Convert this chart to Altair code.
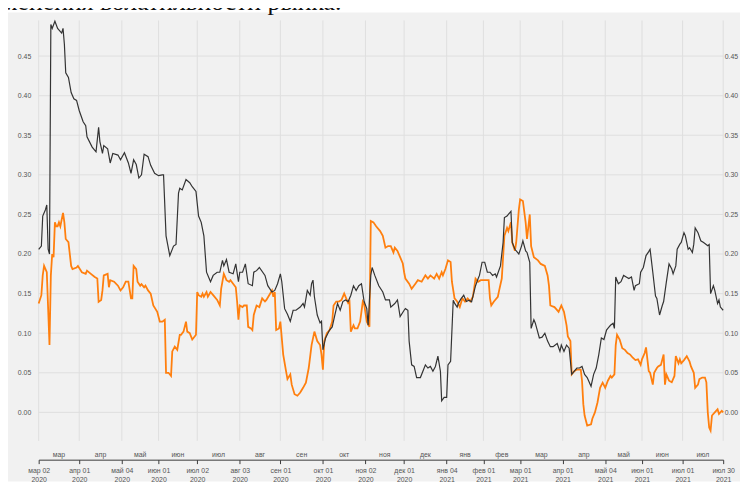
import json
import altair as alt
import numpy as np
import pandas as pd

# ---------------- data ----------------
tick_dates = ["2020-03-02", "2020-04-01", "2020-05-04", "2020-06-01", "2020-07-02",
              "2020-08-03", "2020-09-01", "2020-10-01", "2020-11-02", "2020-12-01",
              "2021-01-04", "2021-02-01", "2021-03-01", "2021-04-01", "2021-05-04",
              "2021-06-01", "2021-07-01", "2021-07-30"]
month_abbr = ["янв", "фев", "мар", "апр", "май", "июн", "июл", "авг", "сен", "окт", "ноя", "дек"]
minor_months = ["мар", "апр", "май", "июн", "июл", "авг", "сен", "окт", "ноя", "дек",
                "янв", "фев", "мар", "апр", "май", "июн", "июл"]
holidays = ["2020-03-09", "2020-05-01", "2020-05-11", "2020-06-12", "2020-06-24", "2020-07-01",
            "2020-11-04", "2020-12-31", "2021-01-01", "2021-01-07", "2021-02-23", "2021-03-08",
            "2021-05-03", "2021-05-10", "2021-06-14"]
y_ticks = [0.00, 0.05, 0.10, 0.15, 0.20, 0.25, 0.30, 0.35, 0.40, 0.45]
header_text = "изменения волатильности рынка."

black_dates = [
    "2020-03-02", "2020-03-04", "2020-03-05", "2020-03-07", "2020-03-08", "2020-03-09", "2020-03-10",
    "2020-03-11", "2020-03-12", "2020-03-14", "2020-03-16", "2020-03-19", "2020-03-20", "2020-03-21",
    "2020-03-22", "2020-03-24", "2020-03-26", "2020-03-28", "2020-03-30", "2020-04-01", "2020-04-04",
    "2020-04-06", "2020-04-07", "2020-04-11", "2020-04-14", "2020-04-16", "2020-04-17", "2020-04-19",
    "2020-04-20", "2020-04-23", "2020-04-25", "2020-04-27", "2020-05-01", "2020-05-03", "2020-05-06",
    "2020-05-09", "2020-05-11", "2020-05-13", "2020-05-15", "2020-05-17", "2020-05-19", "2020-05-21",
    "2020-05-24", "2020-05-26", "2020-05-29", "2020-06-01", "2020-06-04", "2020-06-05", "2020-06-07",
    "2020-06-10", "2020-06-13", "2020-06-15", "2020-06-17", "2020-06-18", "2020-06-20", "2020-06-23",
    "2020-06-26", "2020-06-28", "2020-07-01", "2020-07-03", "2020-07-05", "2020-07-07", "2020-07-09",
    "2020-07-12", "2020-07-14", "2020-07-17", "2020-07-19", "2020-07-21", "2020-07-22", "2020-07-24",
    "2020-07-26", "2020-07-29", "2020-07-31", "2020-08-02", "2020-08-03", "2020-08-05", "2020-08-07",
    "2020-08-09", "2020-08-12", "2020-08-13", "2020-08-15", "2020-08-17", "2020-08-21", "2020-08-23",
    "2020-08-26", "2020-08-28", "2020-08-30", "2020-09-01", "2020-09-02", "2020-09-04", "2020-09-06",
    "2020-09-08", "2020-09-10", "2020-09-12", "2020-09-15", "2020-09-17", "2020-09-18", "2020-09-20",
    "2020-09-22", "2020-09-23", "2020-09-24", "2020-09-25", "2020-09-27", "2020-09-29", "2020-09-30",
    "2020-10-01", "2020-10-03", "2020-10-06", "2020-10-08", "2020-10-10", "2020-10-12", "2020-10-14",
    "2020-10-16", "2020-10-18", "2020-10-20", "2020-10-22", "2020-10-24", "2020-10-26", "2020-10-28",
    "2020-10-30", "2020-11-01", "2020-11-03", "2020-11-04", "2020-11-06", "2020-11-07", "2020-11-09",
    "2020-11-12", "2020-11-15", "2020-11-17", "2020-11-20", "2020-11-21", "2020-11-24", "2020-11-26",
    "2020-11-28", "2020-12-01", "2020-12-02", "2020-12-04", "2020-12-05", "2020-12-07", "2020-12-09",
    "2020-12-11", "2020-12-14", "2020-12-16", "2020-12-18", "2020-12-20", "2020-12-22", "2020-12-24",
    "2020-12-26", "2020-12-28", "2020-12-30", "2020-12-31", "2021-01-02", "2021-01-04", "2021-01-05",
    "2021-01-07", "2021-01-09", "2021-01-10", "2021-01-12", "2021-01-13", "2021-01-15", "2021-01-17",
    "2021-01-19", "2021-01-21", "2021-01-23", "2021-01-26", "2021-01-28", "2021-01-29", "2021-01-31",
    "2021-02-02", "2021-02-04", "2021-02-06", "2021-02-08", "2021-02-10", "2021-02-11", "2021-02-14",
    "2021-02-16", "2021-02-17", "2021-02-19", "2021-02-20", "2021-02-22", "2021-02-23", "2021-02-25",
    "2021-02-27", "2021-02-28", "2021-03-02", "2021-03-03", "2021-03-05", "2021-03-06", "2021-03-08",
    "2021-03-09", "2021-03-11", "2021-03-12", "2021-03-15", "2021-03-17", "2021-03-19", "2021-03-21",
    "2021-03-23", "2021-03-25", "2021-03-28", "2021-03-30", "2021-03-31", "2021-04-02", "2021-04-04",
    "2021-04-06", "2021-04-08", "2021-04-10", "2021-04-12", "2021-04-14", "2021-04-16", "2021-04-18",
    "2021-04-20", "2021-04-23", "2021-04-25", "2021-04-27", "2021-04-29", "2021-05-01", "2021-05-03",
    "2021-05-05", "2021-05-06", "2021-05-08", "2021-05-10", "2021-05-11", "2021-05-12", "2021-05-14",
    "2021-05-16", "2021-05-18", "2021-05-20", "2021-05-22", "2021-05-24", "2021-05-26", "2021-05-27",
    "2021-05-30", "2021-05-31", "2021-06-02", "2021-06-04", "2021-06-06", "2021-06-07", "2021-06-09",
    "2021-06-11", "2021-06-12", "2021-06-14", "2021-06-16", "2021-06-17", "2021-06-19", "2021-06-21",
    "2021-06-23", "2021-06-24", "2021-06-26", "2021-06-27", "2021-06-29", "2021-06-30", "2021-07-02",
    "2021-07-03", "2021-07-05", "2021-07-06", "2021-07-08", "2021-07-09", "2021-07-10", "2021-07-12",
    "2021-07-14", "2021-07-16", "2021-07-19", "2021-07-20", "2021-07-21", "2021-07-23", "2021-07-24",
    "2021-07-26", "2021-07-27", "2021-07-28", "2021-07-30"]
black_values = [
    0.206, 0.210, 0.248, 0.256, 0.262, 0.206, 0.200,
    0.490, 0.485, 0.494, 0.485, 0.479, 0.485, 0.465,
    0.429, 0.423, 0.404, 0.396, 0.394, 0.381, 0.367,
    0.362, 0.348, 0.335, 0.329, 0.360, 0.342, 0.327,
    0.337, 0.333, 0.315, 0.327, 0.325, 0.319, 0.328,
    0.315, 0.302, 0.319, 0.313, 0.296, 0.300, 0.326,
    0.323, 0.312, 0.302, 0.299, 0.300, 0.300, 0.223,
    0.198, 0.210, 0.212, 0.277, 0.283, 0.281, 0.294,
    0.290, 0.285, 0.279, 0.248, 0.240, 0.223, 0.177,
    0.165, 0.173, 0.177, 0.177, 0.192, 0.185, 0.193,
    0.177, 0.175, 0.1875, 0.165, 0.177, 0.177, 0.1875,
    0.1625, 0.160, 0.177, 0.179, 0.183, 0.173, 0.160,
    0.152, 0.154, 0.1625, 0.175, 0.165, 0.131, 0.124,
    0.115, 0.129, 0.129, 0.133, 0.1375, 0.133, 0.154,
    0.148, 0.1625, 0.167, 0.146, 0.123, 0.113, 0.115,
    0.079, 0.094, 0.104, 0.108, 0.123, 0.1375, 0.129,
    0.140, 0.142, 0.140, 0.148, 0.160, 0.154, 0.160,
    0.1625, 0.140, 0.131, 0.110, 0.173, 0.183, 0.173,
    0.160, 0.152, 0.142, 0.142, 0.133, 0.1375, 0.142,
    0.121, 0.129, 0.131, 0.129, 0.090, 0.060, 0.058,
    0.044, 0.044, 0.052, 0.060, 0.056, 0.058, 0.052,
    0.058, 0.071, 0.052, 0.0146, 0.019, 0.019, 0.060,
    0.0646, 0.1417, 0.138, 0.133, 0.138, 0.1437, 0.148,
    0.140, 0.1417, 0.1396, 0.160, 0.169, 0.173, 0.1896,
    0.1896, 0.177, 0.177, 0.173, 0.175, 0.171, 0.185,
    0.2146, 0.246, 0.248, 0.250, 0.254, 0.2146, 0.206,
    0.202, 0.200, 0.210, 0.2167, 0.204, 0.202, 0.1896,
    0.106, 0.117, 0.113, 0.094, 0.095, 0.100, 0.090,
    0.083, 0.083, 0.087, 0.077, 0.085, 0.077, 0.085,
    0.081, 0.048, 0.052, 0.056, 0.056, 0.058, 0.048,
    0.044, 0.033, 0.048, 0.056, 0.073, 0.094, 0.092,
    0.104, 0.106, 0.110, 0.1125, 0.106, 0.171, 0.1625,
    0.165, 0.173, 0.171, 0.169, 0.171, 0.154, 0.160,
    0.1625, 0.177, 0.183, 0.198, 0.203, 0.206, 0.177,
    0.147, 0.144, 0.123, 0.135, 0.140, 0.1646, 0.1875,
    0.181, 0.175, 0.185, 0.206, 0.2125, 0.2146, 0.227,
    0.223, 0.206, 0.208, 0.202, 0.2125, 0.233, 0.227,
    0.2167, 0.2146, 0.2104, 0.212, 0.150, 0.160, 0.154,
    0.1375, 0.142, 0.133, 0.129]

orange_dates = [
    "2020-03-02", "2020-03-04", "2020-03-05", "2020-03-06", "2020-03-08", "2020-03-09", "2020-03-10",
    "2020-03-11", "2020-03-12", "2020-03-13", "2020-03-14", "2020-03-15", "2020-03-16", "2020-03-17",
    "2020-03-18", "2020-03-20", "2020-03-21", "2020-03-22", "2020-03-24", "2020-03-26", "2020-03-27",
    "2020-03-30", "2020-03-31", "2020-04-03", "2020-04-06", "2020-04-07", "2020-04-10", "2020-04-13",
    "2020-04-15", "2020-04-16", "2020-04-18", "2020-04-19", "2020-04-20", "2020-04-23", "2020-04-24",
    "2020-04-25", "2020-04-28", "2020-05-01", "2020-05-03", "2020-05-05", "2020-05-07", "2020-05-09",
    "2020-05-11", "2020-05-12", "2020-05-13", "2020-05-15", "2020-05-16", "2020-05-18", "2020-05-19",
    "2020-05-21", "2020-05-22", "2020-05-24", "2020-05-26", "2020-05-28", "2020-05-31", "2020-06-02",
    "2020-06-04", "2020-06-06", "2020-06-07", "2020-06-09", "2020-06-11", "2020-06-12", "2020-06-14",
    "2020-06-16", "2020-06-18", "2020-06-19", "2020-06-21", "2020-06-23", "2020-06-24", "2020-06-26",
    "2020-06-28", "2020-06-29", "2020-07-01", "2020-07-02", "2020-07-03", "2020-07-05", "2020-07-06",
    "2020-07-07", "2020-07-09", "2020-07-10", "2020-07-12", "2020-07-14", "2020-07-17", "2020-07-19",
    "2020-07-20", "2020-07-22", "2020-07-24", "2020-07-26", "2020-07-27", "2020-07-29", "2020-07-31",
    "2020-08-01", "2020-08-02", "2020-08-03", "2020-08-05", "2020-08-06", "2020-08-08", "2020-08-09",
    "2020-08-11", "2020-08-12", "2020-08-13", "2020-08-15", "2020-08-17", "2020-08-19", "2020-08-21",
    "2020-08-22", "2020-08-24", "2020-08-26", "2020-08-27", "2020-08-28", "2020-08-29", "2020-08-31",
    "2020-09-01", "2020-09-03", "2020-09-05", "2020-09-06", "2020-09-08", "2020-09-09", "2020-09-11",
    "2020-09-13", "2020-09-15", "2020-09-17", "2020-09-19", "2020-09-21", "2020-09-23", "2020-09-25",
    "2020-09-27", "2020-09-29", "2020-09-30", "2020-10-01", "2020-10-02", "2020-10-04", "2020-10-06",
    "2020-10-08", "2020-10-09", "2020-10-11", "2020-10-13", "2020-10-15", "2020-10-17", "2020-10-19",
    "2020-10-20", "2020-10-21", "2020-10-22", "2020-10-24", "2020-10-25", "2020-10-27", "2020-10-29",
    "2020-10-31", "2020-11-01", "2020-11-03", "2020-11-05", "2020-11-06", "2020-11-08", "2020-11-10",
    "2020-11-13", "2020-11-15", "2020-11-17", "2020-11-19", "2020-11-21", "2020-11-23", "2020-11-24",
    "2020-11-26", "2020-11-28", "2020-11-30", "2020-12-01", "2020-12-02", "2020-12-05", "2020-12-07",
    "2020-12-10", "2020-12-12", "2020-12-15", "2020-12-18", "2020-12-20", "2020-12-22", "2020-12-25",
    "2020-12-27", "2020-12-29", "2020-12-31", "2021-01-01", "2021-01-03", "2021-01-05", "2021-01-07",
    "2021-01-08", "2021-01-10", "2021-01-12", "2021-01-14", "2021-01-16", "2021-01-18", "2021-01-20",
    "2021-01-22", "2021-01-24", "2021-01-26", "2021-01-28", "2021-01-30", "2021-02-02", "2021-02-05",
    "2021-02-06", "2021-02-07", "2021-02-09", "2021-02-12", "2021-02-13", "2021-02-15", "2021-02-17",
    "2021-02-19", "2021-02-20", "2021-02-22", "2021-02-23", "2021-02-25", "2021-02-26", "2021-02-28",
    "2021-03-01", "2021-03-03", "2021-03-05", "2021-03-06", "2021-03-08", "2021-03-09", "2021-03-11",
    "2021-03-14", "2021-03-16", "2021-03-19", "2021-03-21", "2021-03-22", "2021-03-23", "2021-03-26",
    "2021-03-27", "2021-03-29", "2021-03-31", "2021-04-02", "2021-04-04", "2021-04-05", "2021-04-07",
    "2021-04-08", "2021-04-10", "2021-04-12", "2021-04-15", "2021-04-16", "2021-04-17", "2021-04-18",
    "2021-04-20", "2021-04-23", "2021-04-24", "2021-04-26", "2021-04-28", "2021-04-30", "2021-05-02",
    "2021-05-04", "2021-05-06", "2021-05-08", "2021-05-09", "2021-05-11", "2021-05-12", "2021-05-13",
    "2021-05-15", "2021-05-17", "2021-05-19", "2021-05-21", "2021-05-23", "2021-05-25", "2021-05-27",
    "2021-05-29", "2021-05-31", "2021-06-01", "2021-06-03", "2021-06-04", "2021-06-06", "2021-06-07",
    "2021-06-09", "2021-06-10", "2021-06-12", "2021-06-13", "2021-06-15", "2021-06-17", "2021-06-18",
    "2021-06-19", "2021-06-21", "2021-06-23", "2021-06-25", "2021-06-26", "2021-06-28", "2021-06-29",
    "2021-06-30", "2021-07-02", "2021-07-04", "2021-07-06", "2021-07-07", "2021-07-09", "2021-07-10",
    "2021-07-12", "2021-07-13", "2021-07-15", "2021-07-17", "2021-07-18", "2021-07-19", "2021-07-20",
    "2021-07-21", "2021-07-22", "2021-07-24", "2021-07-26", "2021-07-27", "2021-07-29", "2021-07-30"]
orange_values = [
    0.1375, 0.148, 0.173, 0.185, 0.177, 0.131, 0.085,
    0.173, 0.200, 0.196, 0.240, 0.235, 0.235, 0.240,
    0.235, 0.252, 0.240, 0.219, 0.215, 0.185, 0.181,
    0.183, 0.185, 0.177, 0.175, 0.179, 0.175, 0.171,
    0.169, 0.1396, 0.142, 0.154, 0.173, 0.175, 0.158,
    0.167, 0.165, 0.160, 0.154, 0.158, 0.165, 0.165,
    0.144, 0.144, 0.185, 0.181, 0.165, 0.160, 0.162,
    0.158, 0.160, 0.154, 0.150, 0.135, 0.127, 0.1146,
    0.1146, 0.117, 0.050, 0.050, 0.046, 0.077, 0.083,
    0.079, 0.098, 0.098, 0.102, 0.1146, 0.102, 0.100,
    0.092, 0.094, 0.098, 0.152, 0.148, 0.146, 0.150,
    0.146, 0.152, 0.146, 0.152, 0.148, 0.142, 0.135,
    0.156, 0.175, 0.167, 0.165, 0.167, 0.1625, 0.158,
    0.140, 0.117, 0.135, 0.133, 0.135, 0.135, 0.108,
    0.106, 0.104, 0.123, 0.135, 0.133, 0.144, 0.140,
    0.142, 0.148, 0.154, 0.146, 0.152, 0.104, 0.106,
    0.1146, 0.073, 0.052, 0.042, 0.048, 0.035, 0.023,
    0.021, 0.025, 0.031, 0.0375, 0.056, 0.085, 0.102,
    0.090, 0.085, 0.073, 0.054, 0.090, 0.100, 0.104,
    0.1146, 0.135, 0.140, 0.140, 0.142, 0.150, 0.142,
    0.138, 0.140, 0.102, 0.110, 0.106, 0.106, 0.1146,
    0.140, 0.137, 0.1146, 0.108, 0.2417, 0.240, 0.235,
    0.229, 0.223, 0.208, 0.210, 0.210, 0.202, 0.208,
    0.204, 0.196, 0.188, 0.177, 0.169, 0.1625, 0.156,
    0.1625, 0.167, 0.165, 0.173, 0.169, 0.173, 0.169,
    0.175, 0.169, 0.177, 0.173, 0.181, 0.192, 0.190,
    0.165, 0.144, 0.140, 0.133, 0.144, 0.140, 0.144,
    0.140, 0.146, 0.169, 0.165, 0.167, 0.167, 0.167,
    0.144, 0.135, 0.140, 0.146, 0.154, 0.169, 0.223,
    0.233, 0.229, 0.240, 0.2146, 0.204, 0.2146, 0.256,
    0.269, 0.267, 0.240, 0.219, 0.250, 0.210, 0.196,
    0.192, 0.1875, 0.185, 0.173, 0.160, 0.135, 0.133,
    0.131, 0.127, 0.135, 0.127, 0.110, 0.096, 0.090,
    0.048, 0.052, 0.054, 0.054, 0.040, 0.0104, -0.004,
    -0.0167, -0.015, -0.008, 0.000, 0.0125, 0.031, 0.0375,
    0.031, 0.040, 0.046, 0.044, 0.048, 0.085, 0.098,
    0.092, 0.081, 0.079, 0.075, 0.073, 0.069, 0.066,
    0.067, 0.060, 0.067, 0.075, 0.082, 0.052, 0.050,
    0.035, 0.050, 0.056, 0.058, 0.060, 0.073, 0.035,
    0.048, 0.040, 0.038, 0.046, 0.071, 0.062, 0.067,
    0.062, 0.066, 0.071, 0.064, 0.058, 0.050, 0.031,
    0.035, 0.042, 0.044, 0.044, 0.038, 0.000, -0.019,
    -0.023, -0.004, 0.000, 0.004, -0.002, 0.002, 0.000]

# ------------- trading-day positions -------------
tick_idx = [int(np.busday_count(tick_dates[0], d, holidays=holidays)) for d in tick_dates]
tick_ord = [pd.Timestamp(d).toordinal() for d in tick_dates]


def trading_pos(dates):
    return np.interp([pd.Timestamp(d).toordinal() for d in dates], tick_ord, tick_idx)


df_black = pd.DataFrame({"date": black_dates, "value": black_values, "x": trading_pos(black_dates)})
df_orange = pd.DataFrame({"date": orange_dates, "value": orange_values, "x": trading_pos(orange_dates)})

tick_labels = []
for d in tick_dates:
    t = pd.Timestamp(d)
    tick_labels.append([f"{month_abbr[t.month - 1]} {t.day:02d}", str(t.year)])
label_expr = (json.dumps(tick_labels, ensure_ascii=False)
              + "[indexof(" + json.dumps(tick_idx) + ", datum.value)]")

df_months = pd.DataFrame({"m": minor_months,
                          "x": [(a + b) / 2 for a, b in zip(tick_idx[:-1], tick_idx[1:])]})
df_vgrid = pd.DataFrame({"x": tick_idx})
df_hgrid = pd.DataFrame({"v": y_ticks})
df_header = pd.DataFrame({"t": [header_text]})
df_panel = pd.DataFrame({"p": [1]})

# ------------- styles -------------
W, H = 692, 425
BG = "#f1f1f1"
GRID = "#dfdfdf"
LAB = "#555555"
FONT = "Liberation Sans"

xscale = alt.Scale(domain=[0, tick_idx[-1]], nice=False, zero=False)
yscale = alt.Scale(domain=[-0.036, 0.495], nice=False, zero=False)

x_axis = alt.Axis(values=tick_idx, labelExpr=label_expr, title=None, grid=False, zindex=1,
                  domain=True, domainColor="#3a3a3a", ticks=True, tickColor="#3a3a3a",
                  tickSize=4, offset=19, labelFontSize=7, labelColor=LAB, labelFont=FONT,
                  labelPadding=3, labelLineHeight=9, labelAngle=0, labelOverlap=False,
                  labelFlush=False)
X = alt.X("x:Q", scale=xscale, axis=x_axis)
left_axis = alt.Axis(orient="left", values=y_ticks, format=".2f", title=None, grid=False,
                     zindex=1, domain=False, ticks=False, labelPadding=8,
                     labelFontSize=7, labelColor=LAB, labelFont=FONT)
right_axis = alt.Axis(orient="right", values=y_ticks, format=".2f", title=None, grid=False,
                      zindex=1, domain=False, ticks=False, labelPadding=1,
                      labelFontSize=7, labelColor=LAB, labelFont=FONT)

panel = alt.Chart(df_panel).mark_rect(color=BG).encode(
    x=alt.value(-31), x2=alt.value(W + 17), y=alt.value(-8), y2=alt.value(H + 41))

vgrid = alt.Chart(df_vgrid).mark_rule(color=GRID, strokeWidth=1).encode(x=X)
hgrid = alt.Chart(df_hgrid).mark_rule(color=GRID, strokeWidth=1).encode(
    y=alt.Y("v:Q", scale=yscale, axis=left_axis))

orange = alt.Chart(df_orange).mark_line(color="#ff7f0e", strokeWidth=1.8).encode(
    x=X, y=alt.Y("value:Q", scale=yscale, axis=left_axis), order="x:Q")

black = alt.Chart(df_black).mark_line(color="#333333", strokeWidth=1.2).encode(
    x=X, y=alt.Y("value:Q", scale=yscale, axis=right_axis), order="x:Q")

months = alt.Chart(df_months).mark_text(fontSize=7, color=LAB, font=FONT, baseline="middle").encode(
    x=X, y=alt.value(H + 14), text="m:N")

header = alt.Chart(df_header).mark_text(fontSize=26, font="Liberation Serif", color="#111111",
                                        align="right", baseline="alphabetic").encode(
    x=alt.value(306), y=alt.value(-11), text="t:N")

main = alt.layer(hgrid, orange).resolve_axis(y="shared")
chart = alt.layer(panel, vgrid, main, black, months, header).resolve_axis(y="independent").properties(
    width=W, height=H, background="white",
    autosize=alt.AutoSizeParams(type="none"),
    padding={"left": 31, "top": 10, "right": 17, "bottom": 41},
).configure_view(stroke=None)

chart.save("out.html", embed_options={"renderer": "svg", "actions": False})
